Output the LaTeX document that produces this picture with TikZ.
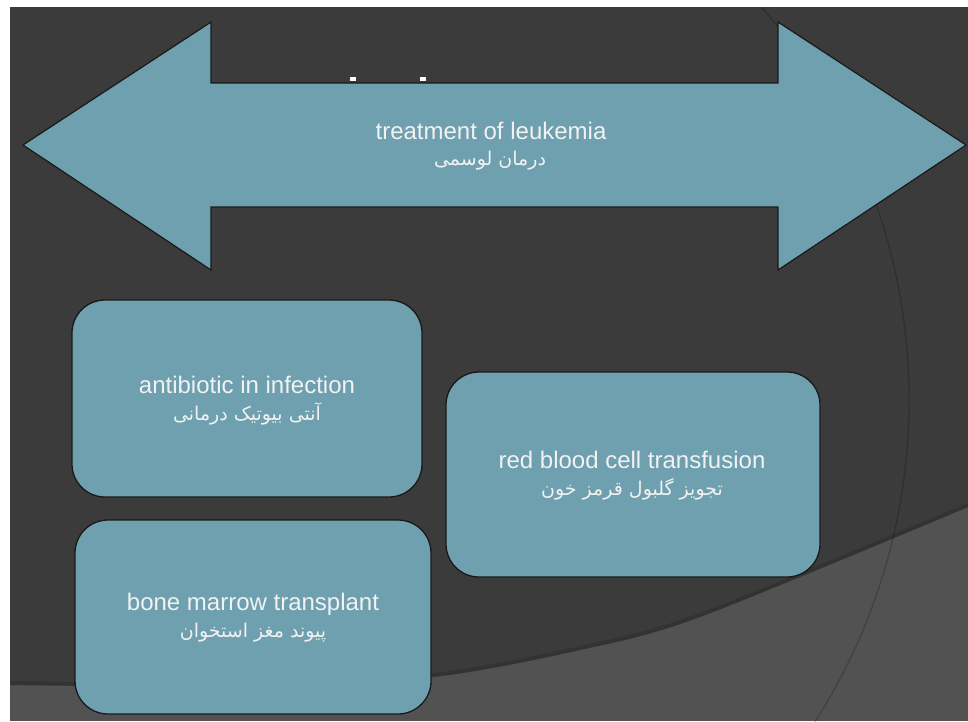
\documentclass[tikz,border=0pt]{standalone}
\usepackage{fontspec}
\setmainfont{Liberation Sans}
\newfontfamily\arabicfont[Script=Arabic]{DejaVu Sans}
\TeXXeTstate=1
\definecolor{bgdark}{HTML}{3B3B3B}
\definecolor{bglight}{HTML}{525252}
\definecolor{boxfill}{HTML}{6EA0AF}
\definecolor{txt}{HTML}{F2F2F2}
\begin{document}
\begin{tikzpicture}[x=1pt,y=-1pt,
  boxshape/.style={draw=black!90, line width=1.3pt, fill=boxfill, rounded corners=33pt, inner sep=0pt},
  entxt/.style={text=txt, inner sep=0pt, font=\fontsize{24}{28}\selectfont},
  artxt/.style={text=txt, inner sep=0pt, font=\arabicfont\fontsize{19}{22}\selectfont}]
\useasboundingbox (0,0) rectangle (968,721);
\fill[white] (0,0) rectangle (968,721);
\begin{scope}
  \clip (10,7) rectangle (968,721);
  \fill[bglight] (10,7) rectangle (968,721);
  \fill[bgdark] (10,7) -- plot[smooth] coordinates {(10,685) (120,686) (260,684) (433,677) (580,650) (700,617) (968,507)} -- (968,7) -- cycle;
  \draw[black, opacity=0.12, line width=4pt] plot[smooth] coordinates {(10,683) (120,684) (260,682) (433,675) (580,648) (700,615) (968,505)};
  \draw[black, opacity=0.2, line width=1.3pt] (312,400) circle [radius=597pt];
\end{scope}
% hidden title specks
\fill[white] (350,77) rectangle (356,81);
\fill[white] (420,77) rectangle (426,81);
% double arrow
\filldraw[fill=boxfill, draw=black!90, line width=1.2pt, line join=miter]
  (23,145) -- (211,22) -- (211,83) -- (778,83) -- (778,22) -- (966,145) -- (778,270) -- (778,207) -- (211,207) -- (211,270) -- cycle;
\node[entxt] (arrowen) at (491,131) {treatment of leukemia};
\node[artxt] (arrowar) at (490,161) {\beginR درمان لوسمی\endR};
% boxes
\node[boxshape, minimum width=350pt, minimum height=197pt] (box1) at (247,398.5) {};
\node[boxshape, minimum width=374pt, minimum height=205pt] (box2) at (633,474.5) {};
\node[boxshape, minimum width=356pt, minimum height=194pt] (box3) at (253,617) {};
\node[entxt] (b1en) at (247,385) {antibiotic in infection};
\node[artxt] (b1ar) at (247,414) {\beginR آنتی بیوتیک درمانی\endR};
\node[entxt] (b2en) at (632,460) {red blood cell transfusion};
\node[artxt] (b2ar) at (632,489) {\beginR تجویز گلبول قرمز خون\endR};
\node[entxt] (b3en) at (253,604) {bone marrow transplant};
\node[artxt] (b3ar) at (253,633) {\beginR پیوند مغز استخوان\endR};
\end{tikzpicture}
\end{document}
